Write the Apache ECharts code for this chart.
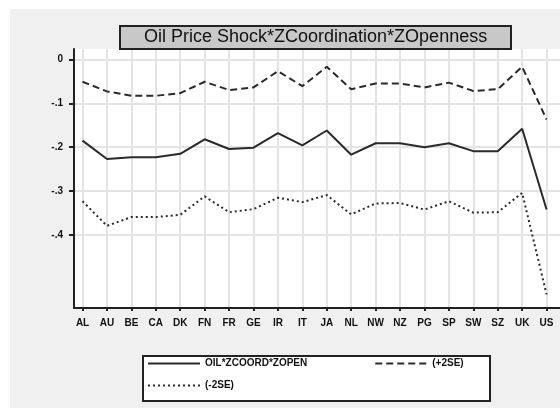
<!DOCTYPE html>
<html>
<head>
<meta charset="utf-8">
<script src="https://cdn.jsdelivr.net/npm/echarts@6/dist/echarts.min.js"></script>
<style>
  html, body { margin: 0; padding: 0; background: #fff; }
  .panel { position: absolute; left: 10px; top: 9px; width: 550px; height: 399px; background: #f0f0f0; }
  #chart { position: absolute; left: 0; top: 0; width: 560px; height: 410px; }
</style>
</head>
<body>
<div class="panel"></div>
<div id="chart"></div>
<script>
// countries on the x axis
var countries = ["AL", "AU", "BE", "CA", "DK", "FN", "FR", "GE", "IR", "IT",
  "JA", "NL", "NW", "NZ", "PG", "SP", "SW", "SZ", "UK", "US"];
// point estimate
var oilCoordOpen = [-0.185, -0.227, -0.223, -0.223, -0.215, -0.182, -0.204, -0.201, -0.168, -0.196,
  -0.162, -0.217, -0.191, -0.191, -0.200, -0.191, -0.209, -0.209, -0.158, -0.342];
// upper band
var plus2SE = [-0.051, -0.073, -0.083, -0.083, -0.077, -0.051, -0.070, -0.064, -0.027, -0.061,
  -0.017, -0.068, -0.055, -0.055, -0.064, -0.053, -0.072, -0.068, -0.017, -0.137];
// lower band
var minus2SE = [-0.323, -0.379, -0.359, -0.359, -0.354, -0.312, -0.348, -0.341, -0.315, -0.325,
  -0.309, -0.353, -0.328, -0.327, -0.342, -0.323, -0.349, -0.348, -0.304, -0.535];
var yTicks = [0, -0.1, -0.2, -0.3, -0.4];

var xIdx = countries.map(function (c, i) { return i; });
function pairs(arr) {
  return arr.map(function (v, i) { return [i, v]; });
}

var font = "'Liberation Sans', Arial, sans-serif";
var legendText = { fontFamily: font, fontSize: 10, fontWeight: "bold", color: "#111" };
var myChart = echarts.init(document.getElementById("chart"));

var option = {
  animation: false,
  title: {
    text: "Oil Price Shock*ZCoordination*ZOpenness",
    left: 120,
    top: 26,
    padding: [2, 24],
    backgroundColor: "#c8c8c8",
    borderColor: "#222",
    borderWidth: 2,
    textStyle: {
      fontFamily: font,
      fontSize: 18,
      lineHeight: 19,
      fontWeight: "normal",
      color: "#111"
    }
  },
  // legend frame
  graphic: [{
    type: "rect",
    left: 142,
    top: 355,
    z: 1,
    shape: { width: 347, height: 45 },
    style: { fill: "#fff", stroke: "#222", lineWidth: 2 }
  }],
  legend: [
    {
      left: 147,
      top: 358,
      padding: 0,
      itemGap: 67,
      itemWidth: 52,
      itemHeight: 14,
      itemStyle: { color: "transparent", borderWidth: 0 },
      textStyle: legendText,
      data: ["OIL*ZCOORD*ZOPEN", "(+2SE)"]
    },
    {
      left: 147,
      top: 380,
      padding: 0,
      itemWidth: 52,
      itemHeight: 14,
      itemStyle: { color: "transparent", borderWidth: 0 },
      textStyle: legendText,
      data: ["(-2SE)"]
    }
  ],
  grid: {
    left: 74,
    right: 0,
    top: 49,
    bottom: 102,
    show: true,
    backgroundColor: "#fff",
    borderWidth: 0
  },
  xAxis: {
    type: "value",
    min: -0.35,
    max: 19.55,
    axisLine: { show: true, onZero: false, lineStyle: { color: "#222", width: 2 } },
    axisTick: { show: true, length: 3, customValues: xIdx, lineStyle: { color: "#222", width: 2 } },
    axisLabel: {
      customValues: xIdx,
      margin: 10,
      fontFamily: font,
      fontSize: 10,
      fontWeight: "bold",
      color: "#111",
      formatter: function (v) { return countries[Math.round(v)]; }
    },
    splitLine: { show: true, lineStyle: { color: "#e4e4e4", width: 2 } }
  },
  yAxis: {
    type: "value",
    min: -0.566,
    max: 0.0235,
    axisLine: { show: true, onZero: false, lineStyle: { color: "#222", width: 2 } },
    axisTick: { show: true, length: 5, customValues: yTicks, lineStyle: { color: "#222", width: 2 } },
    axisLabel: {
      customValues: yTicks,
      margin: 11,
      fontFamily: font,
      fontSize: 10,
      fontWeight: "bold",
      color: "#111",
      formatter: function (v) {
        var s = v.toFixed(1);
        if (s === "0.0" || s === "-0.0") return "0";
        return s.replace("0.", ".");
      }
    },
    splitLine: { show: true, lineStyle: { color: "#e4e4e4", width: 2 } }
  },
  series: [
    {
      name: "OIL*ZCOORD*ZOPEN",
      type: "line",
      symbol: "none",
      data: pairs(oilCoordOpen),
      lineStyle: { color: "#2a2a2a", width: 2, type: "solid" }
    },
    {
      name: "(+2SE)",
      type: "line",
      symbol: "none",
      data: pairs(plus2SE),
      lineStyle: { color: "#2a2a2a", width: 2, type: [7, 4] }
    },
    {
      name: "(-2SE)",
      type: "line",
      symbol: "none",
      data: pairs(minus2SE),
      lineStyle: { color: "#2a2a2a", width: 2, type: [2, 3] }
    }
  ]
};

myChart.setOption(option);
</script>
</body>
</html>
